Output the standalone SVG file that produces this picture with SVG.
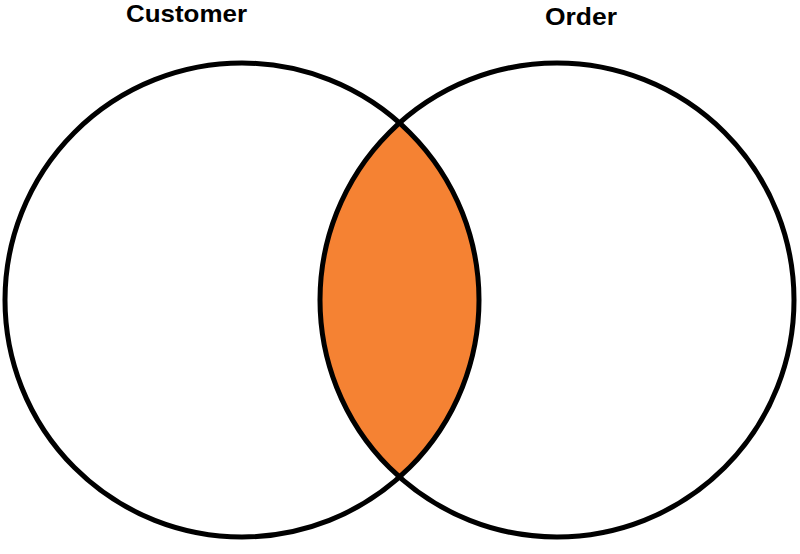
<svg xmlns="http://www.w3.org/2000/svg" width="800" height="554" viewBox="0 0 800 554">
  <style>
    .set { fill: none; stroke: #000; stroke-width: 5; }
    .label { font-family: "Liberation Sans", Arial, sans-serif; font-weight: bold; font-size: 24px; fill: #000; }
    .overlap { fill: #F58233; stroke: none; }
  </style>
  <rect width="800" height="554" fill="#fff"/>
  <g id="intersection">
    <path class="overlap" d="M 399.5 122.9 A 237 237 0 0 1 399.5 477.1 A 237 237 0 0 1 399.5 122.9 Z"/>
  </g>
  <g id="customer">
    <circle class="set" cx="242" cy="300" r="237"/>
    <text class="label" x="126" y="22" textLength="121" lengthAdjust="spacingAndGlyphs">Customer</text>
  </g>
  <g id="order">
    <circle class="set" cx="557" cy="300" r="237"/>
    <text class="label" x="545" y="25" textLength="72" lengthAdjust="spacingAndGlyphs">Order</text>
  </g>
  <g id="connectors"/>
</svg>
